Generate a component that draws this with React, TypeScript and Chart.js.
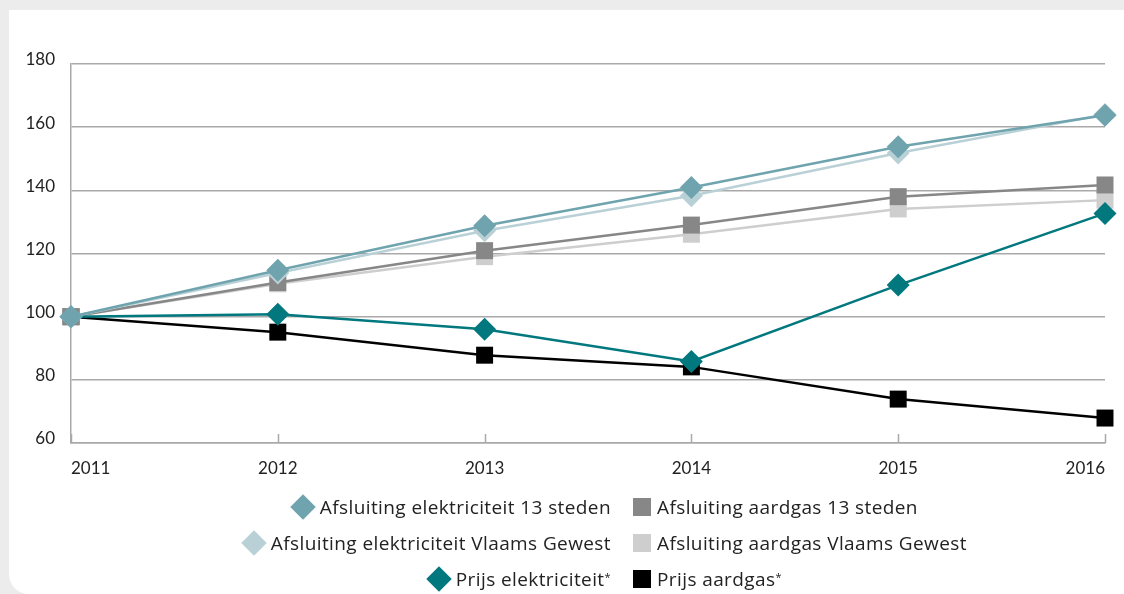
import React, { useEffect, useRef } from "react";
import { Chart, registerables } from "chart.js";

Chart.register(...registerables);

const years = ["2011", "2012", "2013", "2014", "2015", "2016"];
const elec13 = [100, 114.7, 128.8, 140.9, 153.8, 163.8];
const elecVG = [100, 113.8, 127.2, 138.3, 151.8, 164];
const gas13 = [100, 110.8, 120.9, 129, 138, 141.7];
const gasVG = [100, 110.4, 119, 126.1, 134.1, 136.9];
const prijsElec = [100, 100.8, 96, 85.8, 110, 132.7];
const prijsGas = [100, 95.1, 87.8, 84.1, 73.9, 67.9];
const yTicks = [60, 80, 100, 120, 140, 160, 180];

const C_ELEC13 = "#6fa4ae";
const C_ELECVG = "#b9d1d6";
const C_GAS13 = "#878787";
const C_GASVG = "#cecece";
const C_PELEC = "#00787e";
const C_PGAS = "#000000";

const FONT = "'Open Sans', 'Noto Sans', sans-serif";
const AXIS_FONT = "Lato, 'Open Sans', sans-serif";

const innerTicks = {
  id: "innerTicks",
  beforeDatasetsDraw(chart: any) {
    const x = chart.scales.x;
    const ctx = chart.ctx;
    const bottom = chart.chartArea.bottom;
    ctx.save();
    ctx.strokeStyle = "#a9a9a9";
    ctx.lineWidth = 1.5;
    for (let i = 0; i < x.ticks.length; i++) {
      const px = Math.round(x.getPixelForTick(i)) + 0.5;
      ctx.beginPath();
      ctx.moveTo(px, bottom);
      ctx.lineTo(px, bottom - 9);
      ctx.stroke();
    }
    ctx.restore();
  },
};

function ds(label: string, data: number[], color: string, style: string, radius: number) {
  return {
    label,
    data,
    borderColor: color,
    backgroundColor: color,
    borderWidth: 2.5,
    pointStyle: style,
    pointRadius: radius,
    pointHoverRadius: radius,
    pointBorderWidth: 0,
    pointBackgroundColor: color,
    tension: 0,
    clip: false as any,
  };
}

function LegendItem({ color, diamond, children }: any) {
  return (
    <span style={{ display: "inline-flex", alignItems: "center" }}>
      {diamond ? (
        <span style={{ width: 26, height: 26, display: "inline-flex", alignItems: "center", justifyContent: "center", marginRight: 4 }}>
          <span style={{ width: 18, height: 18, background: color, transform: "rotate(45deg)", display: "block" }} />
        </span>
      ) : (
        <span style={{ width: 18, height: 18, background: color, display: "block", marginRight: 6 }} />
      )}
      <span>{children}</span>
    </span>
  );
}

export default function App() {
  const ref = useRef<HTMLCanvasElement>(null);
  useEffect(() => {
    if (!ref.current) return;
    const chart = new Chart(ref.current, {
      type: "line",
      data: {
        labels: years,
        datasets: [
          ds("Afsluiting elektriciteit 13 steden", elec13, C_ELEC13, "rectRot", 11.5),
          ds("Afsluiting elektriciteit Vlaams Gewest", elecVG, C_ELECVG, "rectRot", 11.5),
          ds("Prijs elektriciteit*", prijsElec, C_PELEC, "rectRot", 11.5),
          ds("Afsluiting aardgas 13 steden", gas13, C_GAS13, "rect", 12),
          ds("Afsluiting aardgas Vlaams Gewest", gasVG, C_GASVG, "rect", 12),
          ds("Prijs aardgas*", prijsGas, C_PGAS, "rect", 12),
        ],
      },
      options: {
        responsive: false,
        animation: false,
        layout: { padding: { left: 0, right: 19, top: 64, bottom: 0 } },
        plugins: { legend: { display: false }, tooltip: { enabled: false } },
        scales: {
          x: {
            offset: false,
            afterFit(scale: any) {
              scale.height = 47;
            },
            grid: { display: true, drawOnChartArea: false, drawTicks: false, color: "#a9a9a9" },
            border: { display: true, color: "#a9a9a9", width: 1.5 },
            ticks: {
              align: "inner",
              padding: 15,
              color: "#222",
              font: { family: AXIS_FONT, size: 17 },
              maxRotation: 0,
            },
          },
          y: {
            min: 60,
            max: 180,
            afterFit(scale: any) {
              scale.width = 71;
            },
            afterBuildTicks(scale: any) {
              scale.ticks = yTicks.map((v) => ({ value: v }));
            },
            grid: { color: "#a9a9a9", lineWidth: 1.5, drawTicks: false },
            border: { display: true, color: "#a9a9a9", width: 1.5 },
            ticks: {
              padding: 16,
              labelOffset: -4,
              color: "#222",
              font: { family: AXIS_FONT, size: 17 },
            },
          },
        },
      },
      plugins: [innerTicks],
    });
    return () => chart.destroy();
  }, []);

  const rowStyle: React.CSSProperties = {
    display: "flex",
    height: 36,
    alignItems: "center",
  };
  const leftStyle: React.CSSProperties = {
    width: 611,
    display: "flex",
    justifyContent: "flex-end",
  };
  const rightStyle: React.CSSProperties = {
    marginLeft: 22,
    display: "flex",
  };
  const sup = <sup style={{ fontSize: 11, verticalAlign: "top", position: "relative", top: -2 }}>*</sup>;

  return (
    <div style={{ position: "absolute", left: 0, top: 0, width: 1124, height: 594, background: "#ececec", overflow: "hidden" }}>
      <div style={{ position: "absolute", left: 9, top: 10, width: 1115, height: 584, background: "#fff", borderBottomLeftRadius: 20 }} />
      <canvas ref={ref} width={1124} height={490} style={{ position: "absolute", left: 0, top: 0, width: 1124, height: 490 }} />
      <div style={{ position: "absolute", left: 0, top: 489, width: 1124, fontFamily: FONT, fontSize: 19, letterSpacing: "0.4px", color: "#222", lineHeight: "22px" }}>
        <div style={rowStyle}>
          <div style={leftStyle}>
            <LegendItem color={C_ELEC13} diamond>Afsluiting elektriciteit 13 steden</LegendItem>
          </div>
          <div style={rightStyle}>
            <LegendItem color={C_GAS13}>Afsluiting aardgas 13 steden</LegendItem>
          </div>
        </div>
        <div style={rowStyle}>
          <div style={leftStyle}>
            <LegendItem color={C_ELECVG} diamond>Afsluiting elektriciteit Vlaams Gewest</LegendItem>
          </div>
          <div style={rightStyle}>
            <LegendItem color={C_GASVG}>Afsluiting aardgas Vlaams Gewest</LegendItem>
          </div>
        </div>
        <div style={rowStyle}>
          <div style={leftStyle}>
            <LegendItem color={C_PELEC} diamond>Prijs elektriciteit{sup}</LegendItem>
          </div>
          <div style={rightStyle}>
            <LegendItem color={C_PGAS}>Prijs aardgas{sup}</LegendItem>
          </div>
        </div>
      </div>
    </div>
  );
}
